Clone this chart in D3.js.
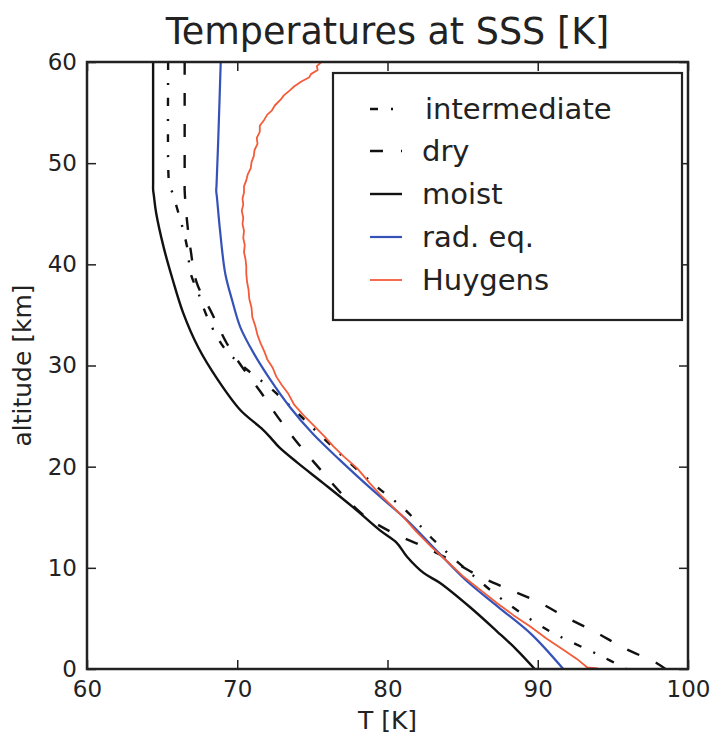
<!DOCTYPE html>
<html>
<head>
	<meta charset="utf-8">
	<script src="https://d3js.org/d3.v7.min.js"></script>
	<style>
		body { margin: 0; background: white; }
		text { font-family: "DejaVu Sans", sans-serif; fill: #222; }
	</style>
</head>
<body>
	<svg width="720" height="735"></svg>
	<script>
		// profiles as [T (K), altitude (km)]
		const intermediate = [
		[65.4,60],[65.4,50],[65.45,48.2],[65.5,47.8],[65.7,47],[66.1,45],[66.4,43.4],[66.7,41.4],
		[66.9,39.1],[67.4,37.2],[68.0,34.8],[69.1,31.8],[70.4,29.9],[72.1,27.9],
		[73.8,25.6],[75.4,23.3],[77.4,20.5],[79.3,18],[81.2,15.7],[82.9,13],
		[85.5,9.5],[87.7,6.8],[90.6,3.9],[91.9,2.9],[94.2,1.3],[95.9,0]
		];
		const dry = [
		[66.5,60],[66.5,48],[66.5,47.3],[66.65,44.4],[66.9,41.4],[67.3,38.2],[68.3,35.2],
		[69.3,32.2],[70.3,29.9],[71.5,27.5],[72.8,24.7],[74.1,22.2],[75.6,19.6],
		[76.9,17.4],[78.5,15.1],[80.3,13.5],[82.4,12.1],[84.4,10.6],[86.2,9.1],
		[88.2,7.8],[90.2,6.5],[91.9,5.1],[93.9,3.6],[95.7,2.1],[97.9,0.6],[98.5,0]
		];
		const moist = [
		[64.4,60],[64.4,48],[64.4,47.4],[64.45,46.8],[64.6,45.1],[65.1,41.7],[65.7,38.5],[66.4,35.2],
		[67.4,31.8],[68.7,28.6],[70.2,25.6],[71.6,23.8],[72.2,22.9],[72.8,21.9],
		[74.0,20.4],[75.7,18.4],[77.7,16.0],[79.5,13.7],[80.6,12.5],[81.3,11.1],
		[82.4,9.5],[83.5,8.5],[85.5,6.1],[87.3,3.7],[88.6,1.9],[89.8,0]
		];
		const radEq = [
		[68.9,60],[68.75,53],[68.62,47.8],[68.6,47.3],[68.65,46.6],[68.85,43.4],[69.2,39.1],[69.65,36.5],
		[70.2,33.8],[71.1,31.2],[72.2,28.6],[73.5,25.9],[75.0,23.3],[76.8,20.7],
		[79.0,17.7],[81.3,14.7],[83.2,11.8],[85.2,8.8],[87.4,6.1],[89.6,3.4],[91.7,0]
		];
		const huygens = [
		[75.6,60],[75.3,59.6],[75.35,59.2],[74.9,58.8],[74.8,58.5],[74.3,58.1],[73.8,57.6],
		[73.5,57.2],[73.1,56.7],[72.9,56.3],[72.5,55.7],[72.3,55.2],[72.0,54.8],[71.8,54.3],
		[71.5,53.7],[71.5,53.1],[71.3,52.5],[71.35,51.9],[71.15,51.3],[71.1,50.7],[70.95,50.1],
		[70.9,49.5],[70.7,48.9],[70.6,48.3],[70.45,47.7],[70.45,47.1],[70.35,46.5],[70.4,45.9],
		[70.3,45.3],[70.4,44.6],[70.35,44],[70.45,43.3],[70.4,42.6],[70.5,41.9],[70.45,41.2],
		[70.55,40.5],[70.6,39.8],[70.6,39.1],[70.65,38.3],[70.75,37.5],[70.8,36.6],[70.95,35.7],
		[71.0,34.8],[71.2,33.9],[71.35,33],[71.55,32.2],[71.8,31.4],[72.0,30.6],[72.35,29.8],
		[72.6,28.9],[72.95,28.1],[73.4,27.2],[73.8,26.1],[74.4,25.1],[75.0,24.2],[75.8,23.0],
		[76.4,22.0],[77.1,21.0],[78.0,19.8],[78.8,18.4],[79.6,17.1],[81.0,15.1],[81.9,13.6],
		[82.9,12.1],[84.0,10.6],[85.0,9.2],[86.2,7.8],[87.3,6.5],[88.4,5.3],[89.5,4.2],
		[90.6,3.0],[91.7,1.9],[92.6,1.0],[93.3,0.15],[94.0,0.05]
		];

		const seriesNames = ["intermediate", "dry", "moist", "rad. eq.", "Huygens"];
		const seriesData = [intermediate, dry, moist, radEq, huygens];
		const seriesColors = ["#111", "#111", "#111", "#3552b8", "#f45b38"];
		const seriesDash = ["8,13,2,13", "13,18", null, null, null];
		const seriesWidth = [2.4, 2.4, 2.4, 2.2, 1.8];
		const seriesSmooth = [true, true, true, true, false];

		const xTicks = [60, 70, 80, 90, 100];
		const yTicks = [0, 10, 20, 30, 40, 50, 60];

		const svg = d3.select("svg");
		const margin = {top: 62, right: 32, bottom: 66, left: 87};
		const width = 720 - margin.left - margin.right,
			height = 735 - margin.top - margin.bottom;
		const g = svg.append("g").attr("transform", `translate(${margin.left},${margin.top})`);

		const x = d3.scaleLinear().domain([60, 100]).range([0, width]);
		const y = d3.scaleLinear().domain([0, 60]).range([height, 0]);

		g.append("clipPath").attr("id", "clip")
			.append("rect").attr("width", width).attr("height", height);

		seriesData.forEach((s, i) => {
			const line = d3.line().x(d => x(d[0])).y(d => y(d[1]))
				.curve(seriesSmooth[i] ? d3.curveCatmullRom.alpha(0.5) : d3.curveLinear);
			g.append("path")
				.datum(s)
				.attr("clip-path", "url(#clip)")
				.attr("fill", "none")
				.attr("stroke", seriesColors[i])
				.attr("stroke-width", seriesWidth[i])
				.attr("stroke-dasharray", seriesDash[i])
				.attr("stroke-linejoin", "round")
				.attr("d", line);
		});

		// axes, ticks pointing inward on all four sides
		const tickLen = 9;
		const xb = g.append("g").attr("transform", `translate(0,${height})`)
			.call(d3.axisBottom(x).tickValues(xTicks).tickSizeInner(-tickLen).tickSizeOuter(0).tickPadding(12));
		const xt = g.append("g")
			.call(d3.axisTop(x).tickValues(xTicks).tickSizeInner(-tickLen).tickSizeOuter(0).tickFormat(""));
		const yl = g.append("g")
			.call(d3.axisLeft(y).tickValues(yTicks).tickSizeInner(-tickLen).tickSizeOuter(0).tickPadding(10));
		const yr = g.append("g").attr("transform", `translate(${width},0)`)
			.call(d3.axisRight(y).tickValues(yTicks).tickSizeInner(-tickLen).tickSizeOuter(0).tickFormat(""));
		[xb, xt, yl, yr].forEach(a => {
			a.select(".domain").remove();
			a.selectAll(".tick line").attr("stroke", "#222").attr("stroke-width", 1.5);
			a.selectAll(".tick text").attr("font-size", 23).attr("font-family", "DejaVu Sans").attr("fill", "#222");
		});

		g.append("rect")
			.attr("width", width).attr("height", height)
			.attr("fill", "none").attr("stroke", "#222").attr("stroke-width", 2.5);

		// legend
		const leg = svg.append("g").attr("transform", "translate(333,73)");
		leg.append("rect").attr("width", 349).attr("height", 247)
			.attr("fill", "white").attr("stroke", "#222").attr("stroke-width", 2.2);
		const legY = [36, 78, 121, 164, 207];
		seriesNames.forEach((n, i) => {
			leg.append("line")
				.attr("x1", 37).attr("x2", 69).attr("y1", legY[i]).attr("y2", legY[i])
				.attr("stroke", seriesColors[i])
				.attr("stroke-width", seriesWidth[i])
				.attr("stroke-dasharray", seriesDash[i]);
			leg.append("text")
				.attr("x", i === 0 ? 92 : 89).attr("y", legY[i]).attr("dy", "0.36em")
				.attr("font-size", 29)
				.text(n);
		});

		svg.append("text")
			.attr("x", margin.left + width / 2).attr("y", 44)
			.attr("text-anchor", "middle").attr("font-size", 36.5)
			.text("Temperatures at SSS [K]");
		svg.append("text")
			.attr("x", margin.left + width / 2).attr("y", 729)
			.attr("text-anchor", "middle").attr("font-size", 25)
			.text("T [K]");
		svg.append("text")
			.attr("transform", `translate(31,${margin.top + height / 2}) rotate(-90)`)
			.attr("text-anchor", "middle").attr("font-size", 25)
			.text("altitude [km]");
	</script>
</body>
</html>
